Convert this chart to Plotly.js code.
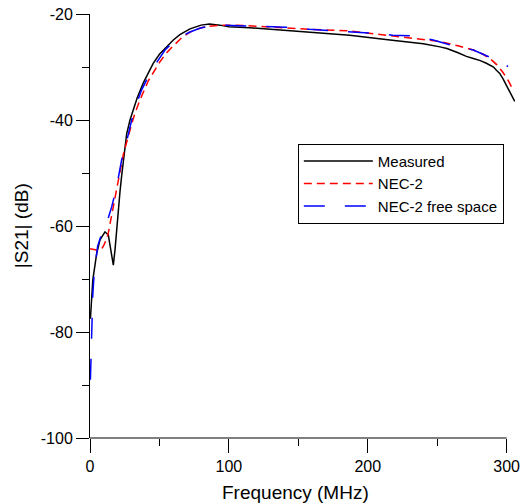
<!DOCTYPE html>
<html>
<head>
<meta charset="utf-8">
<script src="https://cdn.plot.ly/plotly-3.0.1.min.js"></script>
<style>html,body{margin:0;padding:0;background:#fff;}#chart{width:530px;height:504px;}</style>
</head>
<body>
<div id="chart"></div>
<script>
// Measured
const measFreq = [0.3, 1, 2, 4.8, 7.2, 10.8, 13.2, 15.6, 16.8, 18, 19, 20.4, 21.6, 22.8, 24.5, 26.4, 28.8, 31.2, 34, 38.4, 45.5, 50, 55.2, 60, 64.7, 72, 80, 86, 93.5, 100, 115, 130, 160, 187, 216, 240, 252, 257, 265, 271, 276, 281, 285.4, 288, 290.5, 292.6, 295, 297.5, 300, 302, 304, 305.8];
const measDb   = [-77.5, -73.5, -70.2, -65.2, -62.6, -61.1, -61.7, -65.5, -67.4, -64.5, -61, -57.2, -53.5, -50.5, -46.2, -42.6, -40, -38, -35.8, -33, -29.3, -27.6, -26.1, -24.9, -23.9, -22.8, -22.1, -21.9, -22.1, -22.4, -22.6, -22.9, -23.4, -24.0, -24.9, -25.6, -26.2, -26.5, -27.3, -28.0, -28.4, -28.8, -29.3, -29.6, -30.0, -30.6, -31.2, -32.3, -33.5, -34.6, -35.6, -36.5];

// NEC-2
const necFreq = [0, 3, 6, 8, 10, 12, 13.2, 15, 16.8, 19.2, 21, 24, 28.8, 32, 36, 42, 50.4, 55.2, 60, 66, 72, 80, 86, 95, 105, 130, 160, 187, 216, 240, 252, 265, 276, 283, 288, 293, 297, 301, 304.5];
const necDb   = [-64.3, -64.4, -64.6, -64.5, -63.6, -62.4, -61.3, -58.8, -56.3, -53.1, -50.3, -46.5, -41.9, -39, -36.2, -32.6, -29, -27.3, -26, -24.5, -23.4, -22.6, -22.3, -22.1, -22.1, -22.5, -22.9, -23.2, -24.1, -24.8, -25.2, -26.0, -26.8, -27.6, -28.4, -29.6, -30.9, -32.5, -34.3];

// NEC-2 free space
const freeFreq = [0.3, 0.7, 1.2, 2, 3, 4, 5.5, 8, 10.8, 13, 15.6, 19.2, 22.8, 26.4, 30, 33.6, 37.2, 42, 46.8, 54, 60, 66, 72, 79, 86, 93.5, 110, 125, 141, 158, 173, 187, 201, 218, 230, 247, 259, 276, 290, 301];
const freeDb   = [-89, -84, -78, -73, -69, -66.5, -63.8, -61.8, -60.3, -58.6, -56.4, -52.6, -47.5, -44, -40, -36.9, -34.3, -31.8, -29.6, -26.8, -25.3, -24.2, -23.4, -22.7, -22.3, -22.1, -22.2, -22.3, -22.5, -22.9, -23.1, -23.4, -23.6, -24.0, -24.1, -24.9, -25.8, -26.8, -28.4, -29.9];

const xTicks = [0, 100, 200, 300];
const xMinor = [50, 150, 250];
const yTicks = [-100, -80, -60, -40, -20];
const yMinor = [-90, -70, -50, -30];

const xTitle = 'Frequency (MHz)';
const yTitle = '|S21| (dB)';

const FONT = 'Liberation Sans, Arial, sans-serif';

const traces = [
  {x: measFreq, y: measDb, name: 'Measured', mode: 'lines', line: {color: '#000000', width: 1.5}},
  {x: necFreq, y: necDb, name: 'NEC-2', mode: 'lines', line: {color: '#ff0000', width: 1.5, dash: '8px,5px'}},
  {x: freeFreq, y: freeDb, name: 'NEC-2 free space', mode: 'lines', line: {color: '#0000ff', width: 1.5, dash: '21px,20px'}}
];

const layout = {
  width: 530, height: 504,
  margin: {l: 90, r: 15, t: 14, b: 66},
  paper_bgcolor: '#fff', plot_bgcolor: '#fff',
  font: {family: FONT, size: 16, color: '#000'},
  showlegend: true,
  legend: {
    x: 0.489, y: 0.694, xanchor: 'left', yanchor: 'top',
    bgcolor: '#fff', bordercolor: '#000', borderwidth: 1,
    font: {family: FONT, size: 15, color: '#000'},
    itemwidth: 69, tracegroupgap: 0
  },
  xaxis: {
    range: [0, 306], showgrid: false, zeroline: false, showline: false,
    tickmode: 'array', tickvals: xTicks, ticktext: xTicks.map(String),
    ticks: 'outside', ticklen: 14, tickwidth: 1, tickcolor: '#000',
    minor: {tickmode: 'array', tickvals: xMinor, ticks: 'outside', ticklen: 7, tickwidth: 1, tickcolor: '#000', showgrid: false},
    tickfont: {family: FONT, size: 16, color: '#000'}
  },
  yaxis: {
    range: [-100, -20], showgrid: false, zeroline: false, showline: true, linecolor: '#000', linewidth: 1,
    tickmode: 'array', tickvals: yTicks, ticktext: yTicks.map(String),
    ticks: 'outside', ticklen: 13, tickwidth: 1, tickcolor: '#000',
    minor: {tickmode: 'array', tickvals: yMinor, ticks: 'outside', ticklen: 7, tickwidth: 1, tickcolor: '#000', showgrid: false},
    tickfont: {family: FONT, size: 16, color: '#000'}
  },
  annotations: [
    {text: xTitle, xref: 'paper', yref: 'paper', x: 0.4824, y: -0.1297, xanchor: 'center', yanchor: 'middle', showarrow: false, font: {family: FONT, size: 19, color: '#000'}},
    {text: yTitle, xref: 'paper', yref: 'paper', x: -0.1624, y: 0.502, xanchor: 'center', yanchor: 'middle', textangle: -90, showarrow: false, font: {family: FONT, size: 19, color: '#000'}}
  ],
  shapes: [
    {type: 'line', xref: 'x', yref: 'paper', x0: 0, x1: 300, y0: 0, y1: 0, line: {color: '#000', width: 1}, layer: 'above'}
  ]
};

Plotly.newPlot('chart', traces, layout, {displayModeBar: false, staticPlot: true});
</script>
</body>
</html>
